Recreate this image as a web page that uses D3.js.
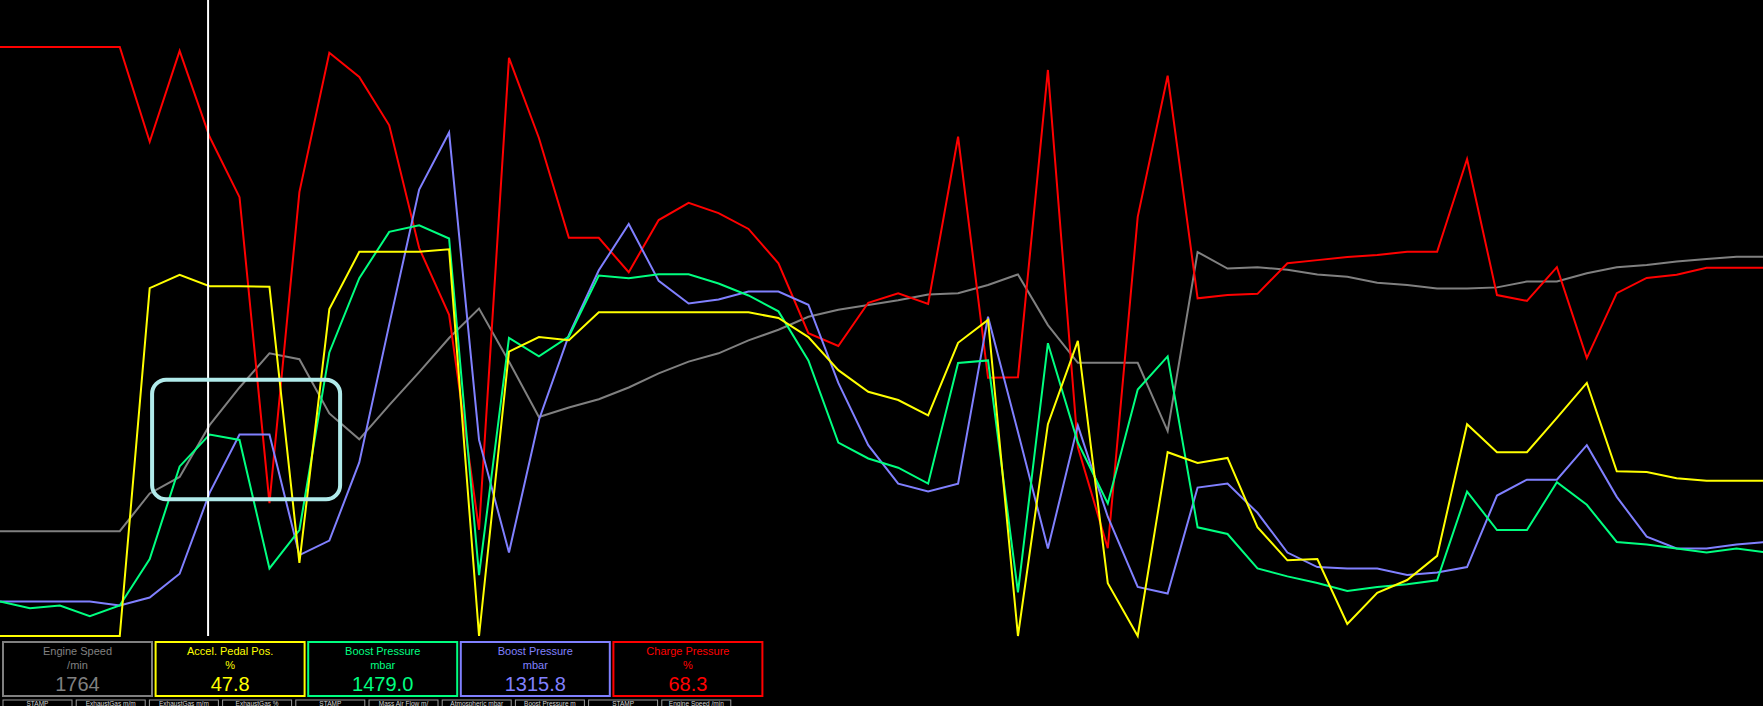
<!DOCTYPE html>
<html>
<head>
<meta charset="utf-8">
<script src="https://cdn.jsdelivr.net/npm/d3@7"></script>
<style>
  html, body { margin: 0; padding: 0; background: #000; overflow: hidden; }
  svg { display: block; }
</style>
</head>
<body>
<svg id="chart" width="1763" height="706"></svg>
<script>
// ---------------- data ----------------
const sampleCount = 60;
const engineSpeed = [890,890,890,890,890,1210,1350,1790,2110,2400,2350,1890,1670,1960,2240,2530,2780,2330,1860,1940,2010,2110,2230,2330,2400,2510,2600,2710,2770,2810,2850,2900,2910,2980,3070,2640,2320,2320,2320,1740,3260,3120,3130,3110,3070,3050,3000,2980,2950,2950,2960,3010,3010,3080,3130,3150,3180,3200,3220,3220];
const pedalPos = [0,0,0,0,0,54.7,56.8,55.0,55.0,54.9,11.5,51.4,60.4,60.4,60.4,60.8,0,44.7,47.0,46.5,50.9,50.9,50.9,50.9,50.9,50.9,50.0,47.0,41.8,38.4,37.1,34.7,46.1,49.7,0,33.3,46.4,8.3,0,28.9,27.2,28.0,17.1,11.9,12.1,1.9,6.8,8.8,12.6,33.3,28.9,28.9,34.3,39.8,25.9,25.8,24.8,24.4,24.4,24.4];
const boostA = [260,210,230,150,230,580,1280,1520,1480,510,800,2140,2700,3050,3100,3000,460,2250,2110,2260,2720,2700,2730,2730,2660,2570,2450,2080,1460,1340,1270,1150,2060,2080,330,2210,1460,1000,1860,2110,820,770,510,450,400,340,370,390,420,1090,800,800,1160,990,710,690,660,630,660,630];
const boostB = [260,260,260,260,230,290,470,1080,1520,1520,610,720,1310,2350,3370,3800,1480,630,1630,2270,2760,3110,2680,2510,2540,2600,2600,2500,1910,1440,1150,1090,1150,2410,1540,660,1590,900,370,320,1120,1150,930,630,520,510,510,460,480,520,1060,1180,1180,1440,1050,750,660,660,690,710];
const chargePressure = [92.6,92.6,92.6,92.6,92.6,77.7,92.0,78.5,69.0,20.9,69.8,91.7,87.9,80.3,61.0,50.5,16.7,90.9,78.3,62.6,62.6,57.2,65.4,68.1,66.5,64.0,58.6,47.6,45.6,52.4,53.9,52.2,78.5,40.6,40.7,89.0,29.7,13.8,65.9,88.1,53.1,53.6,53.8,58.6,59.1,59.6,59.9,60.4,60.4,75.0,53.6,52.7,58.0,43.7,53.9,56.3,56.8,57.9,57.9,57.9];

const panelTitles = ["Engine Speed", "Accel. Pedal Pos.", "Boost Pressure", "Boost Pressure", "Charge Pressure"];
const panelUnits  = ["/min", "%", "mbar", "mbar", "%"];
const panelValues = ["1764", "47.8", "1479.0", "1315.8", "68.3"];
const buttonLabels = ["STAMP", "ExhaustGas m/m", "ExhaustGas m/m", "ExhaustGas %", "STAMP", "Mass Air Flow m/", "Atmospheric mbar", "Boost Pressure m", "STAMP", "Engine Speed /min"];

const cursorSample = 6.95;                         // cursor position (sample index)
const highlight = {x0: 5.08, x1: 11.36, lo: 21.5, hi: 40.3};  // marked zone (sample index, pedal %)

// ---------------- layout ----------------
const W = 1763, H = 706;
const plotTop = 0, plotBottom = 636;
const svg = d3.select("#chart");
svg.append("rect").attr("width", W).attr("height", H).attr("fill", "#000");

const x = d3.scaleLinear().domain([0, sampleCount - 1]).range([0, (sampleCount - 1) * 29.94]);

const series = [
  {values: engineSpeed,    domain: [0, 5400], color: "#808080"},
  {values: chargePressure, domain: [0, 100],  color: "#ff0000"},
  {values: boostB,         domain: [0, 4800], color: "#8080ff"},
  {values: boostA,         domain: [0, 4800], color: "#00ff80"},
  {values: pedalPos,       domain: [0, 100],  color: "#ffff00"}
];

const plot = svg.append("g");
series.forEach(s => {
  const y = d3.scaleLinear().domain(s.domain).range([plotBottom, plotTop]);
  const line = d3.line().x((d, i) => x(i)).y(d => y(d));
  plot.append("path")
    .datum(s.values)
    .attr("d", line)
    .attr("fill", "none")
    .attr("stroke", s.color)
    .attr("stroke-width", 2)
    .attr("stroke-linejoin", "miter");
});

// cursor
plot.append("line")
  .attr("x1", x(cursorSample)).attr("x2", x(cursorSample))
  .attr("y1", plotTop).attr("y2", plotBottom)
  .attr("stroke", "#ffffff").attr("stroke-width", 2);

// highlight zone
const yPedal = d3.scaleLinear().domain([0, 100]).range([plotBottom, plotTop]);
plot.append("rect")
  .attr("x", x(highlight.x0)).attr("y", yPedal(highlight.hi))
  .attr("width", x(highlight.x1) - x(highlight.x0))
  .attr("height", yPedal(highlight.lo) - yPedal(highlight.hi))
  .attr("rx", 14).attr("ry", 14)
  .attr("fill", "none").attr("stroke", "#b0eaea").attr("stroke-width", 4);

// ---------------- readout panels ----------------
const panelColors = ["#808080", "#ffff00", "#00ff80", "#8080ff", "#ff0000"];
const panelX = d3.scaleLinear().domain([0, 1]).range([3, 155.6]);
const panelW = 149, panelY = 642, panelH = 54;
const font = "'Liberation Sans', Arial, sans-serif";
const panels = svg.append("g").selectAll("g").data(panelTitles).join("g")
  .attr("transform", (d, i) => `translate(${panelX(i)},${panelY})`);
panels.append("rect")
  .attr("x", 0).attr("y", 0).attr("width", panelW).attr("height", panelH)
  .attr("fill", "#000").attr("stroke", (d, i) => panelColors[i]).attr("stroke-width", 2);
panels.append("text")
  .attr("x", panelW / 2).attr("y", 13).attr("text-anchor", "middle")
  .attr("font-family", font).attr("font-size", 11)
  .attr("fill", (d, i) => panelColors[i]).text(d => d);
panels.append("text")
  .attr("x", panelW / 2).attr("y", 27).attr("text-anchor", "middle")
  .attr("font-family", font).attr("font-size", 11)
  .attr("fill", (d, i) => panelColors[i]).text((d, i) => panelUnits[i]);
panels.append("text")
  .attr("x", panelW / 2).attr("y", 49).attr("text-anchor", "middle")
  .attr("font-family", font).attr("font-size", 20)
  .attr("fill", (d, i) => panelColors[i]).text((d, i) => panelValues[i]);

// ---------------- bottom buttons ----------------
const btnX = d3.scaleLinear().domain([0, 1]).range([3, 76.2]);
const btnW = 69;
const btns = svg.append("g").selectAll("g").data(buttonLabels).join("g")
  .attr("transform", (d, i) => `translate(${btnX(i)},700)`);
btns.append("rect")
  .attr("x", 0).attr("y", 0).attr("width", btnW).attr("height", 14)
  .attr("fill", "#000").attr("stroke", "#9a9a9a").attr("stroke-width", 1);
btns.append("text")
  .attr("x", btnW / 2).attr("y", 5.6).attr("text-anchor", "middle")
  .attr("font-family", font).attr("font-size", 6.5)
  .attr("fill", "#d0d0d0").text(d => d)
  .each(function () {
    // keep each label inside its button
    const t = d3.select(this);
    let s = t.text();
    while (this.getComputedTextLength() > btnW - 4 && s.length > 1) {
      s = s.slice(0, -1);
      t.text(s);
    }
  });
</script>
</body>
</html>
